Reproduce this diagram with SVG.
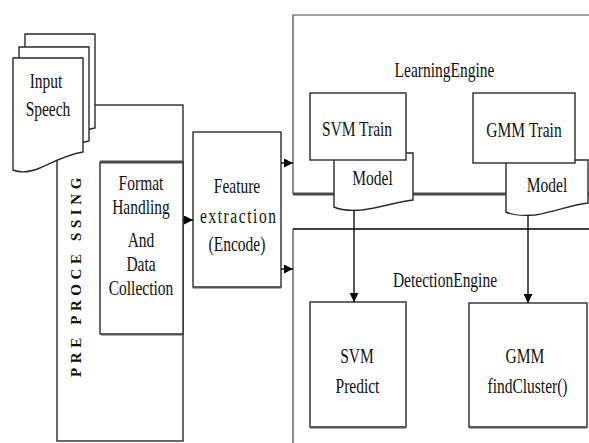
<svg xmlns="http://www.w3.org/2000/svg" xmlns:xlink="http://www.w3.org/1999/xlink" width="589" height="443" viewBox="0 0 589 443">
<style>
.box{fill:#fff;stroke:#2b2b2b;stroke-width:1.4}
.frame{fill:none;stroke:#444;stroke-width:1.2}
.heavy{fill:none;stroke:#4a4a4a;stroke-width:3}
text{font-family:"Times New Roman","Liberation Serif","Tinos","Nimbus Roman","DejaVu Serif","Noto Serif",serif}
.t{font-size:15.5px;fill:#111;text-anchor:middle;transform-box:fill-box;transform-origin:center;transform:scaleY(1.3)}
.vt{font-size:15px;font-weight:bold;fill:#111;text-anchor:middle;letter-spacing:4.6px}
.conn{stroke:#111;stroke-width:1.4;fill:none}
</style>
<defs>
<path id="doc" d="M13,58 H83 V152 C65,155 52,163 40,168 C30,172 20,173 13,170 Z"/>
<marker id="arr" viewBox="0 0 10 10" refX="10" refY="5" markerWidth="9" markerHeight="9" markerUnits="userSpaceOnUse" orient="auto">
<path d="M0,0 L10,5 L0,10 Z" fill="#000"/>
</marker>
</defs>

<g id="preprocessing">
<rect class="box" x="57" y="105" width="126" height="336"/>
<text class="vt" transform="translate(81,275) rotate(-90)">PRE PROCE SSING</text>
</g>

<g id="format-handling">
<rect class="box" x="100" y="162" width="83" height="172"/>
<line class="heavy" x1="100" y1="162" x2="183" y2="162" stroke-width="2.2"/>
<line x1="101" y1="334.5" x2="183" y2="334.5" stroke="#555" stroke-width="2"/>
<text class="t" x="141" y="188.5">Format</text>
<text class="t" x="141" y="212">Handling</text>
<text class="t" x="141" y="245.5">And</text>
<text class="t" x="141" y="269.5">Data</text>
<text class="t" x="141" y="293.5">Collection</text>
</g>

<g id="input-speech">
<use xlink:href="#doc" href="#doc" class="box" transform="translate(12,-24)"/>
<use xlink:href="#doc" href="#doc" class="box" transform="translate(6,-11)"/>
<use xlink:href="#doc" href="#doc" class="box"/>
<text class="t" x="46" y="86">Input</text>
<text class="t" x="48" y="114">Speech</text>
</g>

<g id="feature-extraction">
<rect class="box" x="193" y="132" width="88" height="155"/>
<line x1="193" y1="287.5" x2="281" y2="287.5" stroke="#555" stroke-width="2"/>
<text class="t" x="237" y="191.5">Feature</text>
<text class="t" x="238" y="221.5" textLength="76" lengthAdjust="spacing">extraction</text>
<text class="t" x="237" y="249.5">(Encode)</text>
</g>

<g id="learning-engine">
<path class="frame" d="M600,15 H293 V194"/>
<line class="heavy" x1="293" y1="194" x2="600" y2="194"/>
<text class="t" x="444.5" y="75.5">LearningEngine</text>
</g>

<g id="detection-engine">
<path class="frame" d="M600,229 H293 V450"/>
<line x1="293" y1="229" x2="600" y2="229" stroke="#222" stroke-width="1.6"/>
<text class="t" x="445" y="285.5">DetectionEngine</text>
</g>

<g id="svm-model">
<path class="box" d="M334,153 H413 V200 C395,202 380,208 362,210 C350,211 340,210 334,207 Z"/>
<text class="t" x="372.5" y="183.5">Model</text>
</g>

<g id="gmm-model">
<path class="box" d="M506,160 H588 V203 C570,205 555,212 535,215 C522,216 512,215 506,212 Z"/>
<text class="t" x="547" y="190">Model</text>
</g>

<g id="svm-train">
<rect class="box" x="310" y="93" width="96" height="67"/>
<text class="t" x="357" y="134.5">SVM Train</text>
</g>

<g id="gmm-train">
<rect class="box" x="473" y="93" width="102" height="70"/>
<text class="t" x="524" y="135.5">GMM Train</text>
</g>

<g id="svm-predict">
<rect class="box" x="310" y="302" width="96" height="125"/>
<line x1="310" y1="427.5" x2="406" y2="427.5" stroke="#555" stroke-width="2"/>
<text class="t" x="357" y="361.5">SVM</text>
<text class="t" x="357.5" y="391.5">Predict</text>
</g>

<g id="gmm-findcluster">
<rect class="box" x="469" y="303" width="118" height="124"/>
<line x1="469" y1="427.5" x2="587" y2="427.5" stroke="#555" stroke-width="2"/>
<text class="t" x="525" y="361.5">GMM</text>
<text class="t" x="527.5" y="391.5">findCluster()</text>
</g>

<g id="connectors">
<line class="conn" x1="183" y1="220" x2="193" y2="220" marker-end="url(#arr)"/>
<line class="conn" x1="281" y1="163" x2="293" y2="163" marker-end="url(#arr)"/>
<line class="conn" x1="281" y1="269" x2="293" y2="269" marker-end="url(#arr)"/>
<line class="conn" x1="354" y1="210" x2="354" y2="302" marker-end="url(#arr)"/>
<line class="conn" x1="528" y1="215" x2="528" y2="303" marker-end="url(#arr)"/>
</g>
</svg>
